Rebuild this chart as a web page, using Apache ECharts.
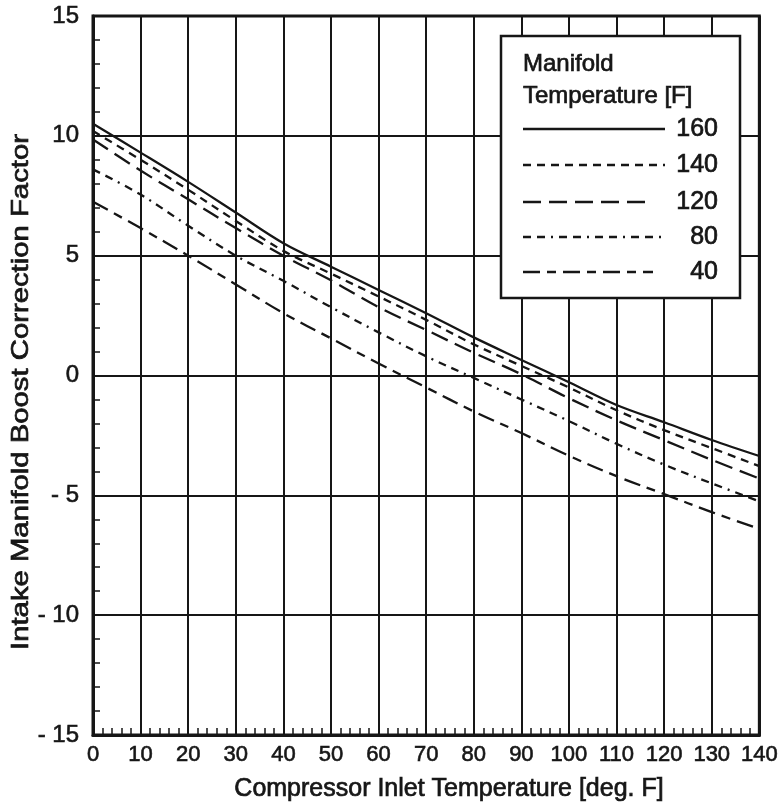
<!DOCTYPE html>
<html>
<head>
<meta charset="utf-8">
<script src="https://cdn.jsdelivr.net/npm/echarts@6/dist/echarts.min.js"></script>
<style>
html,body{margin:0;padding:0;background:#fff;}
#chart{width:781px;height:808px;}
</style>
</head>
<body>
<div id="chart"></div>
<script>
// ---- data ----
var inletTemps = [0, 10, 20, 30, 40, 50, 60, 70, 80, 90, 100, 110, 120, 130, 140];
var seriesNames = ['160', '140', '120', '80', '40'];
var m160 = [10.5, 9.3, 8.08, 6.8, 5.52, 4.54, 3.57, 2.6, 1.59, 0.65, -0.28, -1.23, -1.95, -2.69, -3.36];
var m140 = [10.2, 9.0, 7.75, 6.45, 5.2, 4.25, 3.3, 2.32, 1.3, 0.4, -0.5, -1.45, -2.28, -3.03, -3.78];
var m120 = [9.85, 8.55, 7.35, 6.15, 5.0, 3.97, 2.85, 1.9, 0.95, 0.05, -0.95, -1.87, -2.7, -3.52, -4.3];
var m80  = [8.6, 7.55, 6.25, 5.0, 3.95, 2.85, 1.8, 0.8, -0.1, -1.0, -1.9, -2.85, -3.72, -4.5, -5.25];
var m40  = [7.25, 6.15, 5.0, 3.8, 2.6, 1.55, 0.5, -0.5, -1.5, -2.4, -3.35, -4.2, -4.95, -5.7, -6.4];
var xTicks = [0, 140, 10];
var yTicks = [-15, 15, 5];
var xTitle = 'Compressor Inlet Temperature [deg. F]';
var yTitle = 'Intake Manifold Boost Correction Factor';
var legendTitle = ['Manifold', 'Temperature [F]'];

// ---- styles ----
var FONT = '"Liberation Sans", Arial, Helvetica, sans-serif';
var INK = '#161616';
var dashes = ['solid', [8, 6], [18, 8], [8, 6, 8, 6, 2, 6], [17, 7, 9, 7]];
var allValues = [m160, m140, m120, m80, m40];

var series = allValues.map(function (vals, i) {
  return {
    name: seriesNames[i],
    type: 'line',
    showSymbol: false,
    smooth: 0.35,
    z: 5,
    lineStyle: { color: INK, width: 2.3, type: dashes[i] },
    data: inletTemps.map(function (t, j) { return [t, vals[j]]; })
  };
});

function txt(x, y, s, size, align, extra) {
  var el = { type: 'text', x: x, y: y, z: 101,
    style: { text: s, font: size + 'px ' + FONT, fill: INK, stroke: INK, lineWidth: 0.7,
             textAlign: align || 'left', textVerticalAlign: 'middle' } };
  if (extra) { for (var k in extra) el[k] = extra[k]; }
  return el;
}

// legend graphic
var LX = 501, LY = 36, LW = 239, LH = 262;
var rowY = [129, 165, 202, 237, 272];
var lineEnd = [665, 665, 653, 663, 653];
var legendEls = [
  { type: 'rect', shape: { x: LX, y: LY, width: LW, height: LH },
    style: { fill: '#fff', stroke: INK, lineWidth: 2.5 }, z: 100 },
  txt(523, 64, legendTitle[0], 24),
  txt(523, 96, legendTitle[1], 24)
];
seriesNames.forEach(function (n, i) {
  legendEls.push({ type: 'line', z: 101,
    shape: { x1: 523, y1: rowY[i], x2: lineEnd[i], y2: rowY[i] },
    style: { stroke: INK, lineWidth: 2.3, lineDash: dashes[i] === 'solid' ? null : dashes[i] } });
  legendEls.push(txt(718, rowY[i], n, 25, 'right'));
});
legendEls.push(txt(449, 789, xTitle, 25, 'center'));
legendEls.push(txt(21, 392, yTitle, 24, 'center', { rotation: Math.PI / 2, scaleX: 1.22 }));

var labelCommon = { color: INK, fontFamily: FONT, textBorderColor: INK, textBorderWidth: 0.6 };

var chart = echarts.init(document.getElementById('chart'), null, { renderer: 'canvas' });
chart.setOption({
  backgroundColor: '#fff',
  animation: false,
  grid: { left: 93, right: 18, top: 16, bottom: 73, show: true, borderColor: INK, borderWidth: 3, backgroundColor: 'transparent' },
  xAxis: {
    type: 'value', min: xTicks[0], max: xTicks[1], interval: xTicks[2],
    axisLine: { show: true, onZero: false, lineStyle: { color: INK, width: 3 } },
    axisTick: { show: true, inside: true, length: 6, lineStyle: { color: INK, width: 1.5 } },
    minorTick: { show: true, splitNumber: 5, length: 7, lineStyle: { color: INK, width: 1.5 } },
    splitLine: { show: true, lineStyle: { color: INK, width: 2 } },
    axisLabel: Object.assign({ fontSize: 22, margin: 9 }, labelCommon)
  },
  yAxis: {
    type: 'value', min: yTicks[0], max: yTicks[1], interval: yTicks[2],
    axisLine: { show: true, onZero: false, lineStyle: { color: INK, width: 3 } },
    axisTick: { show: true, inside: true, length: 6, lineStyle: { color: INK, width: 1.5 } },
    minorTick: { show: true, splitNumber: 5, length: 7, lineStyle: { color: INK, width: 1.5 } },
    splitLine: { show: true, lineStyle: { color: INK, width: 2 } },
    axisLabel: Object.assign({
      fontSize: 24, margin: 14,
      formatter: function (v) { return v < 0 ? '- ' + Math.abs(v) : String(v); }
    }, labelCommon)
  },
  graphic: legendEls,
  series: series
});
</script>
</body>
</html>
